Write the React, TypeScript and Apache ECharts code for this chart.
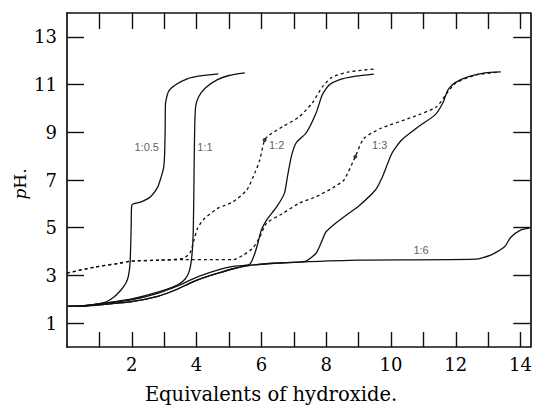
import React, { useEffect, useRef } from "react";
import * as echarts from "echarts";

const xTicks = [1, 2, 3, 4, 5, 6, 7, 8, 9, 10, 11, 12, 13, 14];
const xLabels = [2, 4, 6, 8, 10, 12, 14];
const yTicks = [1, 3, 5, 7, 9, 11, 13];
const xTitle = "Equivalents of hydroxide.";

const s05: [number, number][] = [
  [0, 1.7], [0.5, 1.73], [1.14, 1.86], [1.45, 2.1], [1.66, 2.38], [1.82, 2.68], [1.9, 3.0],
  [1.95, 3.6], [1.98, 5.0], [2.0, 5.95], [2.27, 6.07], [2.58, 6.3], [2.8, 6.7], [2.9, 7.1],
  [2.98, 7.5], [3.01, 7.96], [3.03, 9.1], [3.04, 10.2], [3.13, 10.7], [3.34, 10.98],
  [3.71, 11.24], [4.1, 11.36], [4.67, 11.45],
];
const s1: [number, number][] = [
  [0, 1.7], [0.5, 1.72], [1.1, 1.83], [2.0, 2.02], [2.8, 2.3], [3.4, 2.6], [3.65, 2.85],
  [3.78, 3.2], [3.86, 3.9], [3.9, 5.0], [3.92, 7.1], [3.94, 9.1], [3.97, 10.06], [4.06, 10.48],
  [4.27, 10.86], [4.63, 11.2], [5.0, 11.38], [5.49, 11.49],
];
const s2: [number, number][] = [
  [0, 1.7], [0.5, 1.72], [1.1, 1.82], [2.0, 1.98], [2.8, 2.25], [3.4, 2.55], [3.8, 2.8],
  [4.11, 2.98], [4.72, 3.25], [5.13, 3.38], [5.64, 3.47], [5.8, 3.93], [5.9, 4.4], [6.0, 4.9],
  [6.16, 5.32], [6.47, 5.87], [6.71, 6.44], [6.8, 7.1], [6.92, 7.96], [7.07, 8.55], [7.38, 8.97],
  [7.69, 9.81], [7.88, 10.57], [8.09, 10.98], [8.4, 11.2], [8.92, 11.35], [9.47, 11.44],
];
const s3: [number, number][] = [
  [0, 1.7], [0.5, 1.71], [1.1, 1.78], [2.0, 1.9], [2.8, 2.12], [3.4, 2.42], [3.8, 2.68],
  [4.2, 2.9], [4.72, 3.12], [5.13, 3.28], [5.64, 3.42], [6.26, 3.5], [7.17, 3.56], [7.38, 3.6],
  [7.69, 3.93], [7.88, 4.48], [7.99, 4.82], [8.3, 5.2], [8.7, 5.61], [9.0, 5.9], [9.52, 6.58],
  [9.72, 7.08], [10.03, 8.12], [10.33, 8.68], [10.84, 9.23], [11.36, 9.73], [11.6, 10.23],
  [11.76, 10.78], [11.97, 11.07], [12.37, 11.32], [12.9, 11.49], [13.39, 11.53],
];
const s6: [number, number][] = [
  [0, 1.7], [0.5, 1.71], [1.1, 1.78], [2.0, 1.9], [2.8, 2.12], [3.4, 2.42], [3.8, 2.68],
  [4.2, 2.9], [4.72, 3.12], [5.13, 3.28], [5.64, 3.42], [6.26, 3.5], [7.17, 3.56], [9.0, 3.64],
  [12.6, 3.68], [13.08, 3.85], [13.5, 4.19], [13.7, 4.6], [14.0, 4.9], [14.27, 4.98],
];
const d2: [number, number][] = [
  [0, 3.1], [0.85, 3.35], [1.57, 3.5], [1.97, 3.6], [2.89, 3.64], [3.6, 3.72], [3.8, 3.95],
  [3.92, 4.48], [4.02, 4.95], [4.2, 5.32], [4.63, 5.8], [5.12, 6.08], [5.55, 6.58], [5.8, 7.3],
  [5.95, 7.84], [6.1, 8.68], [6.25, 8.89], [6.65, 9.23], [7.17, 9.65], [7.57, 10.23],
  [7.88, 10.9], [8.19, 11.32], [8.7, 11.53], [9.47, 11.65],
];
const d3: [number, number][] = [
  [0, 3.1], [0.85, 3.35], [1.57, 3.5], [1.97, 3.6], [2.89, 3.64], [3.6, 3.66], [4.5, 3.66],
  [5.13, 3.66], [5.44, 3.85], [5.74, 4.15], [5.95, 4.6], [6.16, 5.19], [6.66, 5.6], [7.17, 6.03],
  [7.69, 6.3], [8.2, 6.67], [8.55, 7.0], [8.9, 7.98], [9.16, 8.74], [9.68, 9.16], [10.69, 9.65],
  [11.4, 10.06], [11.76, 10.7], [12.0, 11.07], [12.62, 11.4], [13.35, 11.53],
];
const dots: [number, number][] = [[6.1, 8.68], [8.9, 7.98]];
const curveLabels: [number, number, string][] = [
  [2.46, 8.38, "1:0.5"], [4.26, 8.38, "1:1"], [6.47, 8.47, "1:2"], [9.65, 8.47, "1:3"], [10.93, 4.06, "1:6"],
];

export default function App() {
  const ref = useRef<HTMLDivElement>(null);
  useEffect(() => {
    document.body.style.margin = "0";
    const chart = echarts.init(ref.current!, null, { renderer: "svg" });
    const serif = "DejaVu Serif";
    const axisLine = { onZero: false, lineStyle: { color: "#111", width: 1.7 } };
    const tickStyle = { color: "#111", width: 1.4 };
    const solid = (name: string, data: [number, number][]) => ({
      type: "line", name, data, smooth: 0.2, symbol: "none",
      lineStyle: { color: "#111", width: 1.3 },
    });
    const dashed = (name: string, data: [number, number][]) => ({
      type: "line", name, data, smooth: 0.2, symbol: "none",
      lineStyle: { color: "#111", width: 1.3, type: [3, 3] },
    });
    chart.setOption({
      animation: false,
      backgroundColor: "#fff",
      grid: { left: 67, right: 3, top: 13, bottom: 60 },
      xAxis: [
        {
          type: "value", min: 0, max: 14.3, position: "bottom",
          axisLine,
          axisTick: { inside: true, length: 15, customValues: xTicks, lineStyle: tickStyle },
          axisLabel: { customValues: xLabels, fontFamily: serif, fontSize: 18, color: "#000", margin: 8 },
          splitLine: { show: false },
        },
        {
          type: "value", min: 0, max: 14.3, position: "top",
          axisLine,
          axisTick: { inside: true, length: 16, customValues: xTicks, lineStyle: tickStyle },
          axisLabel: { show: false },
          splitLine: { show: false },
        },
      ],
      yAxis: [
        {
          type: "value", min: 0, max: 14, position: "left",
          axisLine,
          axisTick: { inside: true, length: 17, customValues: yTicks, lineStyle: tickStyle },
          axisLabel: { customValues: yTicks, fontFamily: serif, fontSize: 18, color: "#000", margin: 10 },
          splitLine: { show: false },
        },
        {
          type: "value", min: 0, max: 14, position: "right",
          axisLine,
          axisTick: { inside: true, length: 17, customValues: yTicks, lineStyle: tickStyle },
          axisLabel: { show: false },
          splitLine: { show: false },
        },
      ],
      graphic: [
        {
          type: "text", x: 271, y: 394,
          style: {
            text: xTitle, fontFamily: serif, fontSize: 19.5, fill: "#000",
            align: "center", verticalAlign: "middle",
          },
        },
        {
          type: "text", x: 20, y: 184, rotation: Math.PI / 2,
          style: {
            text: "{i|p}H.", fontFamily: serif, fontSize: 17, fill: "#000",
            align: "center", verticalAlign: "middle",
            rich: { i: { fontFamily: serif, fontSize: 17, fontStyle: "italic", fill: "#000" } },
          },
        },
      ],
      series: [
        solid("1:0.5", s05),
        solid("1:1", s1),
        solid("1:2", s2),
        solid("1:3", s3),
        solid("1:6", s6),
        dashed("1:2 dashed", d2),
        dashed("1:3 dashed", d3),
        {
          type: "scatter", name: "dots", data: dots, symbolSize: 4,
          itemStyle: { color: "#111" },
        },
        {
          type: "scatter", name: "labels", symbolSize: 0,
          itemStyle: { color: "#333" },
          data: curveLabels.map((c) => ({ value: [c[0], c[1]], name: c[2] })),
          label: {
            show: true, position: "inside", formatter: (p: any) => p.name,
            fontFamily: "Liberation Sans", fontSize: 11, color: "#333",
            textBorderWidth: 0,
          },
        },
      ],
    });
    return () => chart.dispose();
  }, []);
  return <div ref={ref} style={{ width: 535, height: 407 }} />;
}
